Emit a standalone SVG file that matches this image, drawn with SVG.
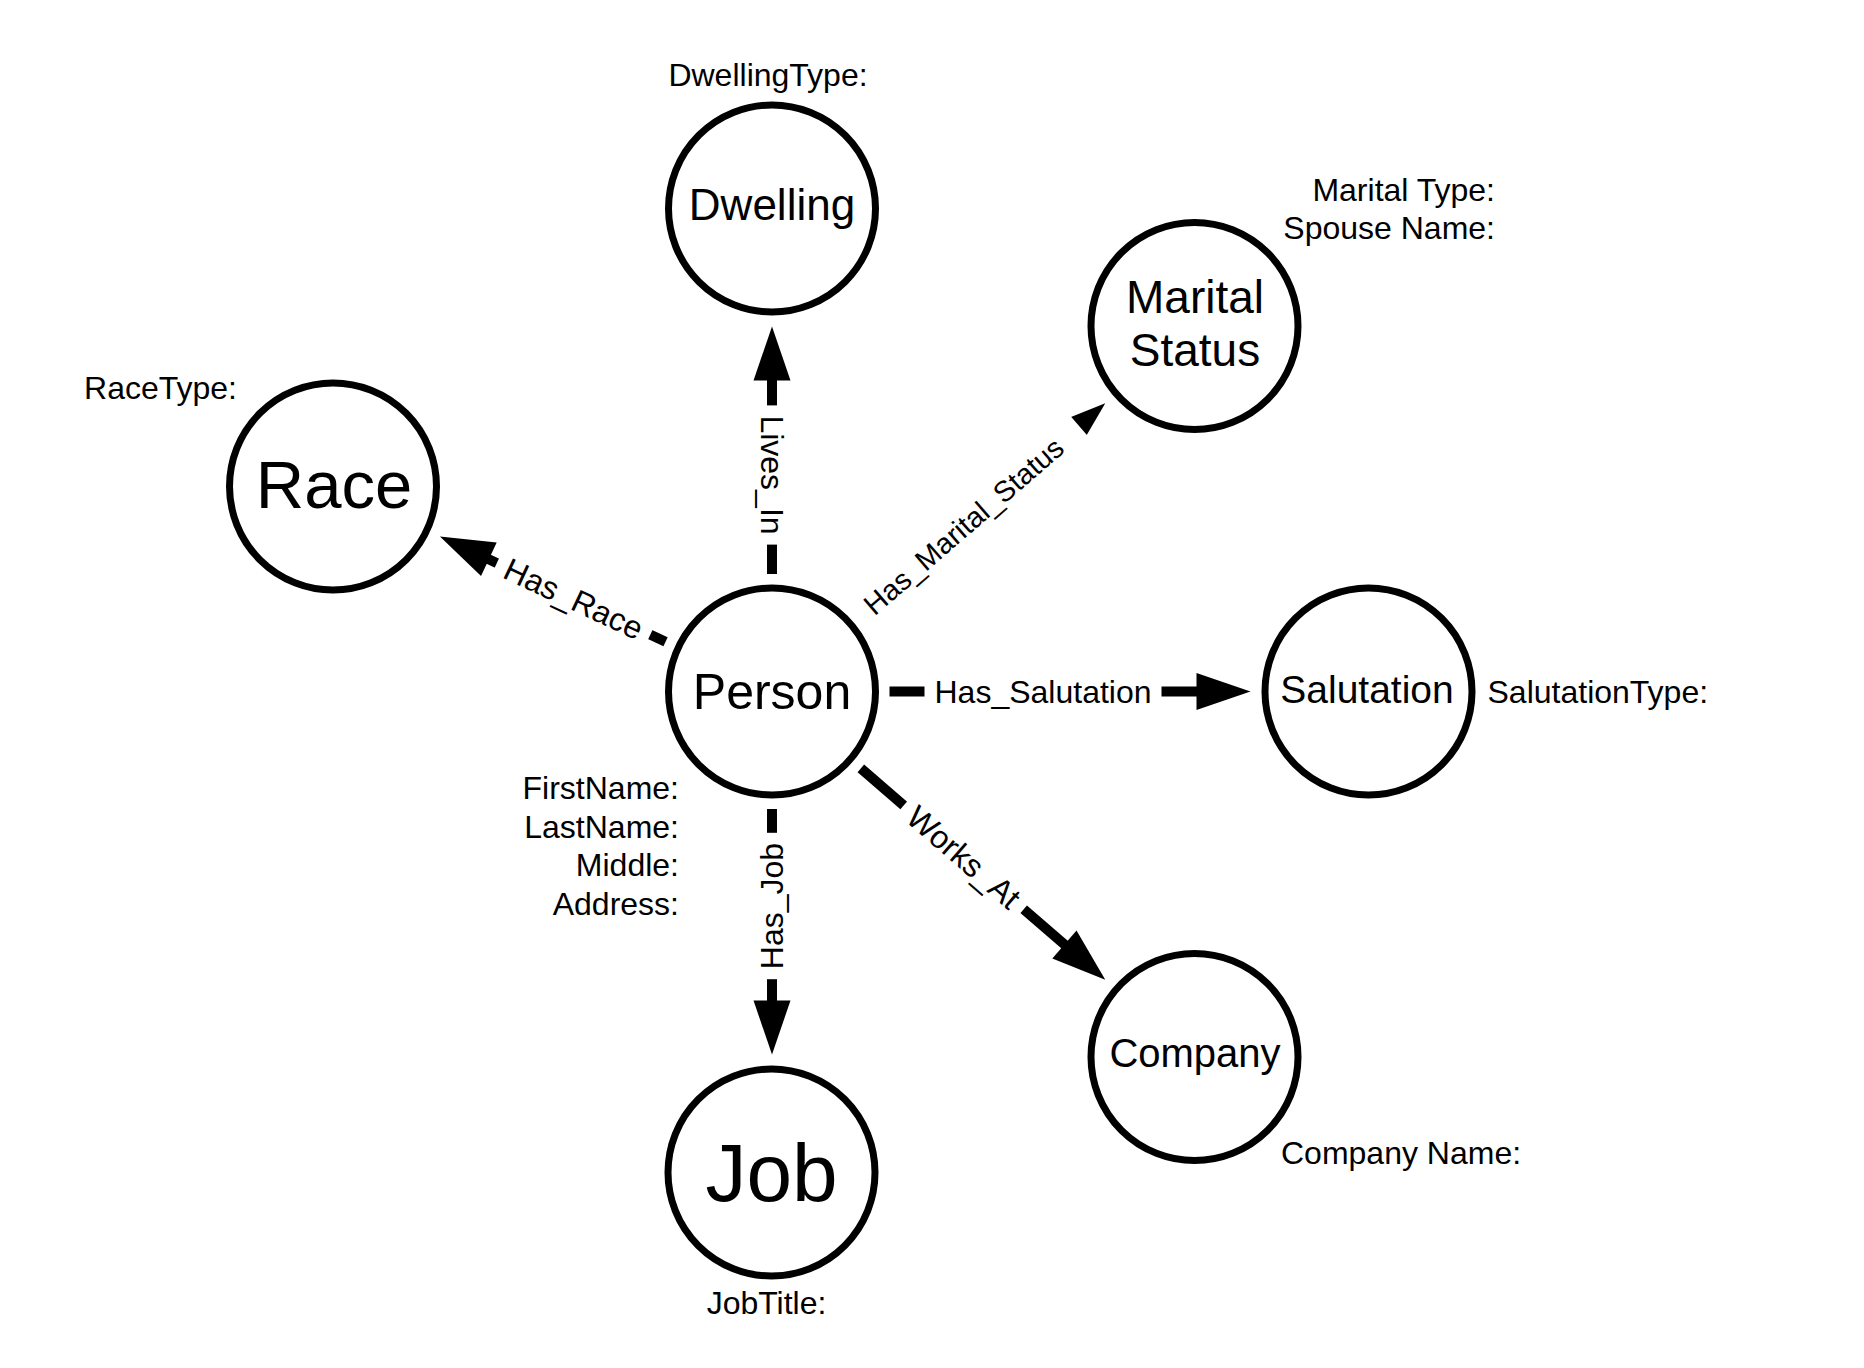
<svg xmlns="http://www.w3.org/2000/svg" width="1864" height="1368" viewBox="0 0 1864 1368">
<style>
text{font-family:"Liberation Sans",Arial,Helvetica,sans-serif;fill:#000}
.node{fill:#fff;stroke:#000;stroke-width:7}
.attr{font-size:32px}
.elbl{font-size:32px;text-anchor:middle}
.edge{stroke:#000;stroke-width:10;fill:none;marker-end:url(#arrow)}
.bg{fill:#fff}
.nl{text-anchor:middle}
</style>
<defs>
<marker id="arrow" markerUnits="userSpaceOnUse" markerWidth="54" markerHeight="37" refX="2" refY="18.5" orient="auto" overflow="visible">
<path d="M0,0 L54,18.5 L0,37 Z" fill="#000"/>
</marker>
</defs>
<rect width="1864" height="1368" fill="#fff"/>
<g id="connectors">
<g id="e-lives-in">
<line class="edge" x1="772" y1="574" x2="772" y2="378.5"/>
<g transform="translate(772,475) rotate(90)"><rect class="bg" x="-69.6" y="-20" width="139.2" height="40"/><text class="elbl" x="0" y="11">Lives_In</text></g>
</g>
<g id="e-has-job">
<line class="edge" x1="772" y1="809" x2="772" y2="1002.5"/>
<g transform="translate(772,906) rotate(-90)"><rect class="bg" x="-73.2" y="-20" width="146.4" height="40"/><text class="elbl" x="0" y="11">Has_Job</text></g>
</g>
<g id="e-has-salutation">
<line class="edge" x1="889.5" y1="691.5" x2="1198.5" y2="691.5"/>
<g transform="translate(1043,691.5)"><rect class="bg" x="-118.5" y="-20" width="237" height="40"/><text class="elbl" x="0" y="11">Has_Salutation</text></g>
</g>
<g id="e-has-race">
<line class="edge" x1="665.54" y1="641.78" x2="487.04" y2="558.43"/>
<g transform="translate(573.57,598.84) rotate(25.03)"><rect class="bg" x="-84.7" y="-20" width="169.4" height="40"/><text class="elbl" x="0" y="11">Has_Race</text></g>
</g>
<g id="e-has-marital-status">
<line class="edge" x1="860.86" y1="614.63" x2="1065.94" y2="437.22"/>
<g transform="translate(963.5,525.8) rotate(-40.86)"><rect class="bg" x="-152.7" y="-20" width="305.4" height="40"/><text class="elbl" x="0" y="10.4" style="font-size:29px">Has_Marital_Status</text></g>
</g>
<g id="e-works-at">
<line class="edge" x1="860.86" y1="768.37" x2="1065.94" y2="945.78"/>
<g transform="translate(963.72,857.35) rotate(40.86)"><rect class="bg" x="-79.3" y="-20" width="158.6" height="40"/><text class="elbl" x="0" y="11">Works_At</text></g>
</g>
</g>
<g id="person">
<circle class="node" cx="772" cy="691.5" r="103.5"/>
<text class="nl" x="772" y="709" style="font-size:50px">Person</text>
<text class="attr" text-anchor="end" x="679" y="799">FirstName:</text>
<text class="attr" text-anchor="end" x="679" y="837.5">LastName:</text>
<text class="attr" text-anchor="end" x="679" y="876">Middle:</text>
<text class="attr" text-anchor="end" x="679" y="914.5">Address:</text>
</g>
<g id="dwelling">
<circle class="node" cx="772" cy="208.5" r="103.5"/>
<text class="nl" x="772" y="219.5" style="font-size:44px">Dwelling</text>
<text class="attr" text-anchor="middle" x="768" y="86">DwellingType:</text>
</g>
<g id="marital-status">
<circle class="node" cx="1194.5" cy="326" r="103.5"/>
<text class="nl" x="1195" y="313" style="font-size:46px">Marital</text>
<text class="nl" x="1195" y="366" style="font-size:46px">Status</text>
<text class="attr" text-anchor="end" x="1495" y="201">Marital Type:</text>
<text class="attr" text-anchor="end" x="1495" y="239">Spouse Name:</text>
</g>
<g id="race">
<circle class="node" cx="333" cy="486.5" r="103.5"/>
<text class="nl" x="334" y="508" style="font-size:67px">Race</text>
<text class="attr" text-anchor="middle" x="160.5" y="399">RaceType:</text>
</g>
<g id="salutation">
<circle class="node" cx="1368.5" cy="691.5" r="103.5"/>
<text class="nl" x="1367" y="703" style="font-size:39px">Salutation</text>
<text class="attr" x="1487.5" y="702.5">SalutationType:</text>
</g>
<g id="company">
<circle class="node" cx="1194.5" cy="1057" r="103.5"/>
<text class="nl" x="1195" y="1067" style="font-size:40px">Company</text>
<text class="attr" x="1281" y="1164">Company Name:</text>
</g>
<g id="job">
<circle class="node" cx="771.5" cy="1172.5" r="103.5"/>
<text class="nl" x="771.5" y="1200.5" style="font-size:82px">Job</text>
<text class="attr" text-anchor="middle" x="766.5" y="1314">JobTitle:</text>
</g>
</svg>
